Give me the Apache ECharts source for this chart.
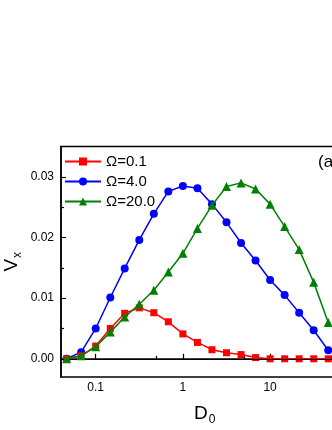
<!DOCTYPE html>
<html>
<head>
<meta charset="utf-8">
<script src="https://cdn.jsdelivr.net/npm/echarts@6/dist/echarts.min.js"></script>
<style>html,body{margin:0;padding:0;background:#fff}#c{width:332px;height:430px}</style>
</head>
<body>
<div id="c"></div>
<script>
// D0 values (log-spaced)
const D0 = [0.0464, 0.0681, 0.1, 0.147, 0.215, 0.316, 0.464, 0.681, 1, 1.468, 2.154, 3.162, 4.642, 6.81, 10, 14.68, 21.54, 31.62, 46.42];
const omega01 = [0.0000, 0.0005, 0.0021, 0.0050, 0.0075, 0.0084, 0.0076, 0.0061, 0.0041, 0.0027, 0.0015, 0.0010, 0.0007, 0.0002, 0.0000, 0.0000, 0.0000, 0.0000, 0.0000];
const omega40 = [0.0000, 0.0011, 0.0050, 0.0101, 0.0149, 0.0196, 0.0239, 0.0276, 0.0285, 0.0281, 0.0255, 0.0225, 0.0191, 0.0162, 0.0130, 0.0105, 0.0076, 0.0047, 0.0014];
const omega200 = [0.0000, 0.0005, 0.0020, 0.0044, 0.0069, 0.0090, 0.0113, 0.0143, 0.0174, 0.0215, 0.0253, 0.0284, 0.0290, 0.0280, 0.0255, 0.0218, 0.0180, 0.0126, 0.0060];
const seriesNames = ['Ω=0.1', 'Ω=4.0', 'Ω=20.0'];
const xMajorTicks = [0.1, 1, 10, 100];
const xMinorTicks = [0.05, 0.5, 5, 50];
const yMajorTicks = [0, 0.01, 0.02, 0.03];
const yMinorTicks = [0.005, 0.015, 0.025];

const font = 'Liberation Sans, Arial, sans-serif';
const pair = ys => D0.map((d, i) => [d, ys[i]]);
const nameRich = {
  m: {fontSize: 19, lineHeight: 24, fontFamily: font, color: '#000', verticalAlign: 'middle'},
  s: {fontSize: 12, lineHeight: 12, fontFamily: font, color: '#000', verticalAlign: 'bottom', padding: [0, 0, 0, 1]}
};

const chart = echarts.init(document.getElementById('c'), null, {renderer: 'canvas'});
const xBase = {
  type: 'log', logBase: 10, min: 0.04, max: 100, gridIndex: 0, position: 'bottom',
  splitLine: {show: false}
};
const yBase = {
  type: 'value', min: -0.003, max: 0.035, gridIndex: 0, position: 'left',
  splitLine: {show: false}
};
chart.setOption({
  animation: false,
  textStyle: {fontFamily: font},
  grid: {left: 61, top: 146.5, width: 296.3, height: 230.5, containLabel: false, outerBoundsMode: 'none',
    show: true, borderColor: '#000', borderWidth: 1.5, backgroundColor: 'transparent'},
  legend: {
    orient: 'vertical', left: 59, top: 149, itemWidth: 36, itemHeight: 10, itemGap: 5,
    textStyle: {fontSize: 15, color: '#000', fontFamily: font},
    data: seriesNames
  },
  xAxis: [
    Object.assign({}, xBase, {
      name: '{m|D}{s|0}', nameLocation: 'middle', nameGap: 25, nameMoveOverlap: false,
      nameTextStyle: {padding: [0, 9, 0, 0], rich: nameRich},
      axisLine: {show: true, lineStyle: {color: '#000', width: 1.5}},
      axisTick: {show: true, inside: true, length: 5, customValues: xMajorTicks, lineStyle: {color: '#000', width: 1.2}},
      axisLabel: {show: true, customValues: [0.1, 1, 10], fontSize: 12, color: '#000', margin: 5, fontFamily: font,
        formatter: v => String(v)}
    }),
    Object.assign({}, xBase, {
      axisLine: {show: false},
      axisTick: {show: true, inside: true, length: 3, customValues: xMinorTicks, lineStyle: {color: '#000', width: 1.2}},
      axisLabel: {show: false}
    })
  ],
  yAxis: [
    Object.assign({}, yBase, {
      name: '{m|V}{s|x}', nameLocation: 'middle', nameGap: 37, nameRotate: 90, nameMoveOverlap: false,
      nameTextStyle: {rich: nameRich},
      axisLine: {show: true, lineStyle: {color: '#000', width: 1.5}},
      axisTick: {show: true, inside: true, length: 5, customValues: yMajorTicks, lineStyle: {color: '#000', width: 1.2}},
      axisLabel: {show: true, customValues: yMajorTicks, fontSize: 12, color: '#000', margin: 7, fontFamily: font,
        formatter: v => v.toFixed(2)}
    }),
    Object.assign({}, yBase, {
      axisLine: {show: false},
      axisTick: {show: true, inside: true, length: 3, customValues: yMinorTicks, lineStyle: {color: '#000', width: 1.2}},
      axisLabel: {show: false}
    })
  ],
  graphic: [
    {type: 'text', left: 318, top: 154, style: {text: '(a)', fontSize: 17, fontFamily: font, fill: '#000'}}
  ],
  series: [
    {
      name: seriesNames[0], type: 'line', xAxisIndex: 0, yAxisIndex: 0, data: pair(omega01),
      symbol: 'rect', symbolSize: 7, color: '#ff0000',
      lineStyle: {color: '#ff0000', width: 1.5}, itemStyle: {color: '#ff0000'},
      markLine: {silent: true, symbol: 'none', label: {show: false}, lineStyle: {color: '#000', type: 'solid', width: 1.2},
        data: [{yAxis: 0}]},
      z: 4
    },
    {
      name: seriesNames[1], type: 'line', xAxisIndex: 0, yAxisIndex: 0, data: pair(omega40),
      symbol: 'circle', symbolSize: 8, color: '#0000ff',
      lineStyle: {color: '#0000ff', width: 1.5}, itemStyle: {color: '#0000ff'}, z: 3
    },
    {
      name: seriesNames[2], type: 'line', xAxisIndex: 0, yAxisIndex: 0, data: pair(omega200),
      symbol: 'triangle', symbolSize: 9, color: '#008000',
      lineStyle: {color: '#008000', width: 1.5}, itemStyle: {color: '#008000'}, z: 5
    }
  ]
});
</script>
</body>
</html>
